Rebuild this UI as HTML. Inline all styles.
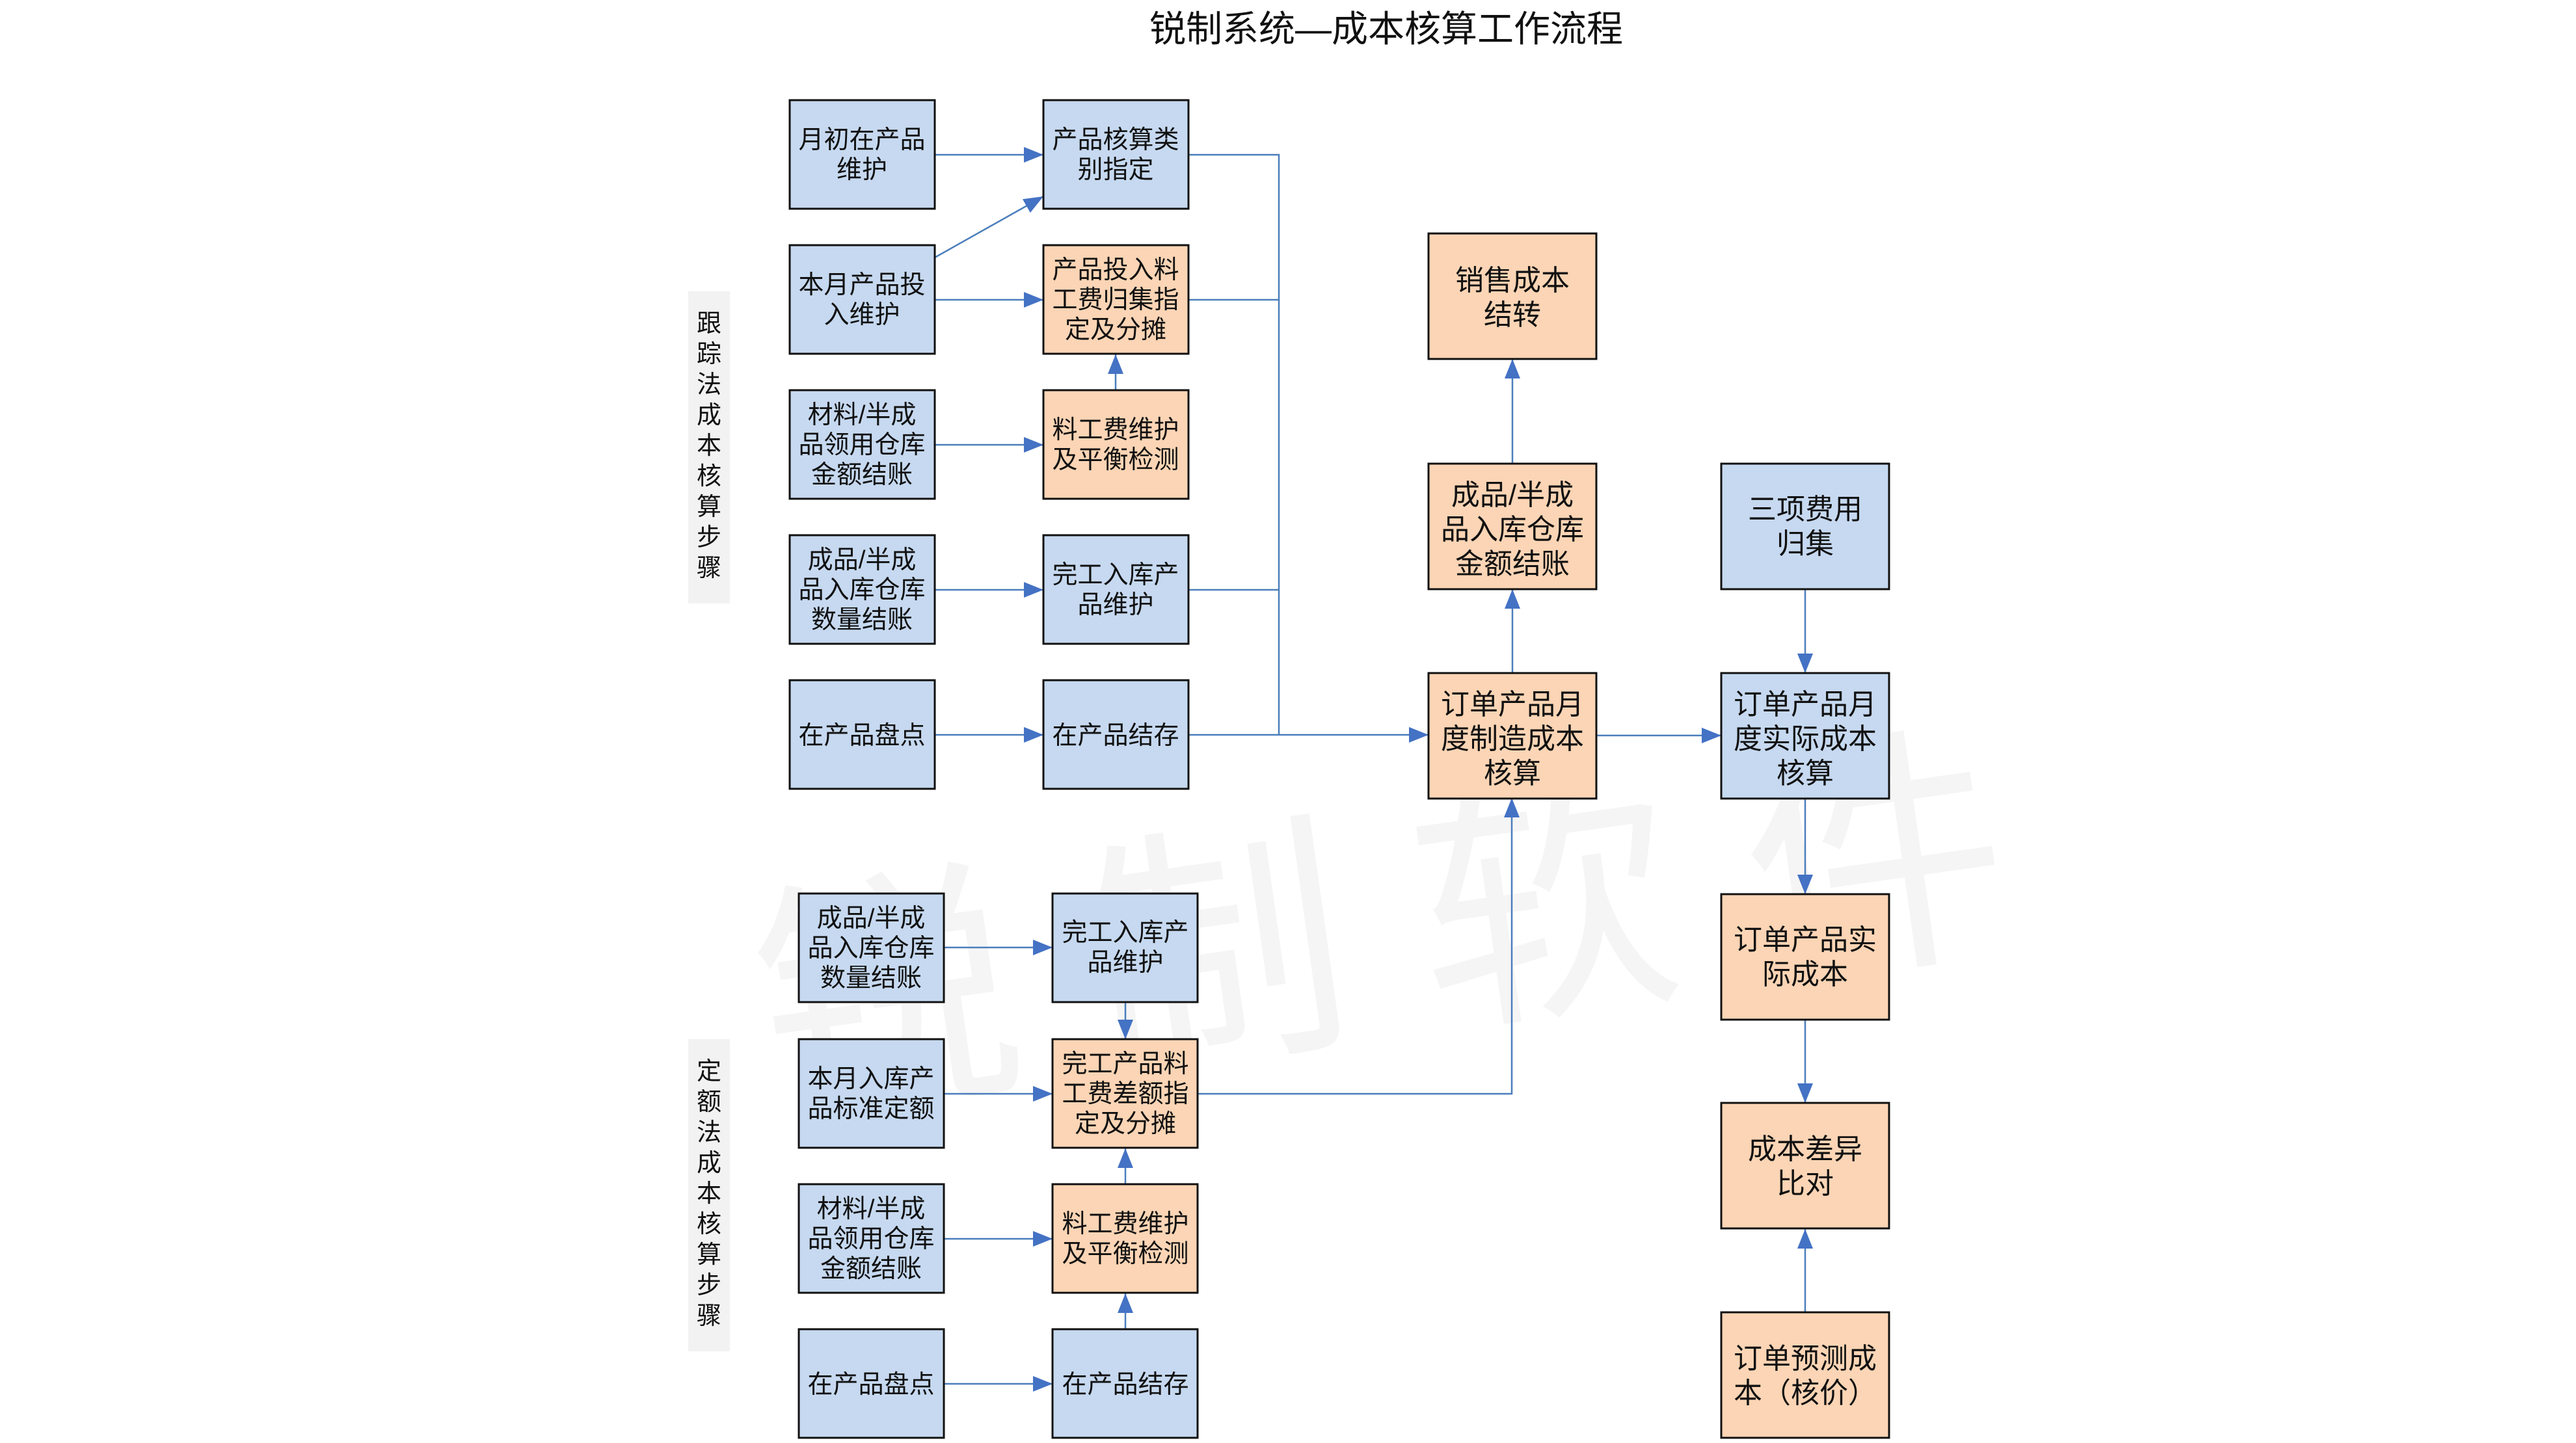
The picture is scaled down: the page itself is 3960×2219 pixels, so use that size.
<!DOCTYPE html>
<html><head><meta charset="utf-8"><style>
html,body{margin:0;padding:0;background:#fff;}
svg{display:block;}
text{font-family:"Liberation Sans","Noto Sans CJK SC",sans-serif;fill:#111;}
</style></head><body>
<svg width="3960" height="2219" viewBox="0 0 3960 2219" xmlns="http://www.w3.org/2000/svg">
<defs>
<marker id="a" markerWidth="30" markerHeight="24" refX="30" refY="12" orient="auto" markerUnits="userSpaceOnUse">
<path d="M0,0 L30,12 L0,24 Z" fill="#4472c4"/></marker>
</defs>
<!-- watermark -->
<text x="1150" y="1600" font-size="400" fill="#f4f4f4" style="fill:#f5f5f5" transform="rotate(-8 1900 1400)">锐 制 软 件</text>

<text x="2131" y="64" font-size="56" text-anchor="middle">锐制系统—成本核算工作流程</text>

<!-- side labels -->
<rect x="1058" y="448" width="64" height="480" fill="#f2f2f2"/>
<text font-size="38" text-anchor="middle">
<tspan x="1090" y="510">跟</tspan><tspan x="1090" y="557">踪</tspan><tspan x="1090" y="604">法</tspan><tspan x="1090" y="651">成</tspan><tspan x="1090" y="698">本</tspan><tspan x="1090" y="745">核</tspan><tspan x="1090" y="792">算</tspan><tspan x="1090" y="839">步</tspan><tspan x="1090" y="886">骤</tspan></text>
<rect x="1058" y="1598" width="64" height="480" fill="#f2f2f2"/>
<text font-size="38" text-anchor="middle">
<tspan x="1090" y="1660">定</tspan><tspan x="1090" y="1707">额</tspan><tspan x="1090" y="1754">法</tspan><tspan x="1090" y="1801">成</tspan><tspan x="1090" y="1848">本</tspan><tspan x="1090" y="1895">核</tspan><tspan x="1090" y="1942">算</tspan><tspan x="1090" y="1989">步</tspan><tspan x="1090" y="2036">骤</tspan></text>

<!-- connectors -->
<g stroke="#4a7ebb" stroke-width="2.5" fill="none">
<line x1="1437" y1="238" x2="1604" y2="238" marker-end="url(#a)"/>
<line x1="1437" y1="396" x2="1604" y2="302" marker-end="url(#a)"/>
<line x1="1437" y1="461" x2="1604" y2="461" marker-end="url(#a)"/>
<line x1="1437" y1="684" x2="1604" y2="684" marker-end="url(#a)"/>
<line x1="1437" y1="907" x2="1604" y2="907" marker-end="url(#a)"/>
<line x1="1437" y1="1130" x2="1604" y2="1130" marker-end="url(#a)"/>
<line x1="1715" y1="600" x2="1715" y2="545" marker-end="url(#a)"/>
<polyline points="1827,238 1966,238 1966,1130"/>
<line x1="1827" y1="461" x2="1966" y2="461"/>
<line x1="1827" y1="907" x2="1966" y2="907"/>
<line x1="1827" y1="1130" x2="2196" y2="1130" marker-end="url(#a)"/>
<line x1="2325" y1="1035" x2="2325" y2="906" marker-end="url(#a)"/>
<line x1="2325" y1="713" x2="2325" y2="552" marker-end="url(#a)"/>
<line x1="2454" y1="1131" x2="2646" y2="1131" marker-end="url(#a)"/>
<line x1="2775" y1="906" x2="2775" y2="1035" marker-end="url(#a)"/>
<line x1="2775" y1="1227" x2="2775" y2="1375" marker-end="url(#a)"/>
<line x1="2775" y1="1568" x2="2775" y2="1696" marker-end="url(#a)"/>
<line x1="2775" y1="2018" x2="2775" y2="1890" marker-end="url(#a)"/>
<!-- lower -->
<line x1="1451" y1="1457" x2="1618" y2="1457" marker-end="url(#a)"/>
<line x1="1451" y1="1682" x2="1618" y2="1682" marker-end="url(#a)"/>
<line x1="1451" y1="1905" x2="1618" y2="1905" marker-end="url(#a)"/>
<line x1="1451" y1="2128" x2="1618" y2="2128" marker-end="url(#a)"/>
<line x1="1730" y1="1541" x2="1730" y2="1598" marker-end="url(#a)"/>
<line x1="1730" y1="1821" x2="1730" y2="1766" marker-end="url(#a)"/>
<line x1="1730" y1="2044" x2="1730" y2="1989" marker-end="url(#a)"/>
<polyline points="1841,1682 2324,1682 2324,1227" marker-end="url(#a)"/>
</g>

<!-- boxes -->
<g stroke="#111" stroke-width="3">
<rect x="1214" y="154" width="223" height="167" fill="#c6d9f0"/>
<rect x="1214" y="377" width="223" height="167" fill="#c6d9f0"/>
<rect x="1214" y="600" width="223" height="167" fill="#c6d9f0"/>
<rect x="1214" y="823" width="223" height="167" fill="#c6d9f0"/>
<rect x="1214" y="1046" width="223" height="167" fill="#c6d9f0"/>
<rect x="1604" y="154" width="223" height="167" fill="#c6d9f0"/>
<rect x="1604" y="377" width="223" height="167" fill="#fbd5b5"/>
<rect x="1604" y="600" width="223" height="167" fill="#fbd5b5"/>
<rect x="1604" y="823" width="223" height="167" fill="#c6d9f0"/>
<rect x="1604" y="1046" width="223" height="167" fill="#c6d9f0"/>
<rect x="1228" y="1374" width="223" height="167" fill="#c6d9f0"/>
<rect x="1228" y="1598" width="223" height="167" fill="#c6d9f0"/>
<rect x="1228" y="1821" width="223" height="167" fill="#c6d9f0"/>
<rect x="1228" y="2044" width="223" height="167" fill="#c6d9f0"/>
<rect x="1618" y="1374" width="223" height="167" fill="#c6d9f0"/>
<rect x="1618" y="1598" width="223" height="167" fill="#fbd5b5"/>
<rect x="1618" y="1821" width="223" height="167" fill="#fbd5b5"/>
<rect x="1618" y="2044" width="223" height="167" fill="#c6d9f0"/>
<rect x="2196" y="359" width="258" height="193" fill="#fbd5b5"/>
<rect x="2196" y="713" width="258" height="193" fill="#fbd5b5"/>
<rect x="2196" y="1035" width="258" height="193" fill="#fbd5b5"/>
<rect x="2646" y="713" width="258" height="193" fill="#c6d9f0"/>
<rect x="2646" y="1035" width="258" height="193" fill="#c6d9f0"/>
<rect x="2646" y="1375" width="258" height="193" fill="#fbd5b5"/>
<rect x="2646" y="1696" width="258" height="193" fill="#fbd5b5"/>
<rect x="2646" y="2018" width="258" height="193" fill="#fbd5b5"/>
</g>

<g font-size="39" text-anchor="middle">
<text><tspan x="1325" y="228">月初在产品</tspan><tspan x="1325" y="274">维护</tspan></text>
<text><tspan x="1325" y="451">本月产品投</tspan><tspan x="1325" y="497">入维护</tspan></text>
<text><tspan x="1325" y="651">材料/半成</tspan><tspan x="1325" y="697">品领用仓库</tspan><tspan x="1325" y="743">金额结账</tspan></text>
<text><tspan x="1325" y="874">成品/半成</tspan><tspan x="1325" y="920">品入库仓库</tspan><tspan x="1325" y="966">数量结账</tspan></text>
<text><tspan x="1325" y="1144">在产品盘点</tspan></text>
<text><tspan x="1715" y="228">产品核算类</tspan><tspan x="1715" y="274">别指定</tspan></text>
<text><tspan x="1715" y="428">产品投入料</tspan><tspan x="1715" y="474">工费归集指</tspan><tspan x="1715" y="520">定及分摊</tspan></text>
<text><tspan x="1715" y="674">料工费维护</tspan><tspan x="1715" y="720">及平衡检测</tspan></text>
<text><tspan x="1715" y="897">完工入库产</tspan><tspan x="1715" y="943">品维护</tspan></text>
<text><tspan x="1715" y="1144">在产品结存</tspan></text>
<text><tspan x="1339" y="1425">成品/半成</tspan><tspan x="1339" y="1471">品入库仓库</tspan><tspan x="1339" y="1517">数量结账</tspan></text>
<text><tspan x="1339" y="1672">本月入库产</tspan><tspan x="1339" y="1718">品标准定额</tspan></text>
<text><tspan x="1339" y="1872">材料/半成</tspan><tspan x="1339" y="1918">品领用仓库</tspan><tspan x="1339" y="1964">金额结账</tspan></text>
<text><tspan x="1339" y="2142">在产品盘点</tspan></text>
<text><tspan x="1730" y="1447">完工入库产</tspan><tspan x="1730" y="1493">品维护</tspan></text>
<text><tspan x="1730" y="1649">完工产品料</tspan><tspan x="1730" y="1695">工费差额指</tspan><tspan x="1730" y="1741">定及分摊</tspan></text>
<text><tspan x="1730" y="1895">料工费维护</tspan><tspan x="1730" y="1941">及平衡检测</tspan></text>
<text><tspan x="1730" y="2142">在产品结存</tspan></text>
</g>
<g font-size="44" text-anchor="middle">
<text><tspan x="2325" y="446">销售成本</tspan><tspan x="2325" y="499">结转</tspan></text>
<text><tspan x="2325" y="776">成品/半成</tspan><tspan x="2325" y="829">品入库仓库</tspan><tspan x="2325" y="882">金额结账</tspan></text>
<text><tspan x="2325" y="1098">订单产品月</tspan><tspan x="2325" y="1151">度制造成本</tspan><tspan x="2325" y="1204">核算</tspan></text>
<text><tspan x="2775" y="798">三项费用</tspan><tspan x="2775" y="851">归集</tspan></text>
<text><tspan x="2775" y="1098">订单产品月</tspan><tspan x="2775" y="1151">度实际成本</tspan><tspan x="2775" y="1204">核算</tspan></text>
<text><tspan x="2775" y="1460">订单产品实</tspan><tspan x="2775" y="1513">际成本</tspan></text>
<text><tspan x="2775" y="1782">成本差异</tspan><tspan x="2775" y="1835">比对</tspan></text>
<text><tspan x="2775" y="2104">订单预测成</tspan><tspan x="2775" y="2157">本（核价）</tspan></text>
</g>
</svg>
</body></html>
